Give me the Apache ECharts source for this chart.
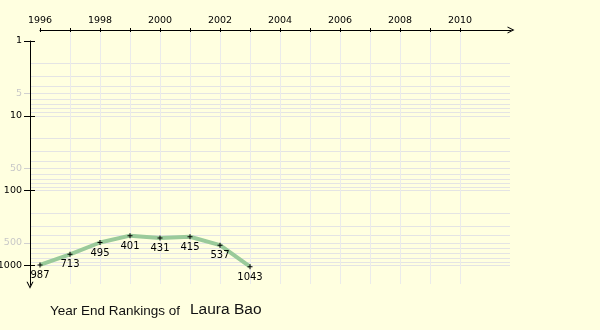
<!DOCTYPE html>
<html><head><meta charset="utf-8">
<script src="https://cdn.jsdelivr.net/npm/echarts@6/dist/echarts.min.js"></script>
<style>html,body{margin:0;padding:0;background:#ffffe0;}#c{width:600px;height:330px;}</style>
</head><body><div id="c"></div>
<script>
var years = [1996, 1997, 1998, 1999, 2000, 2001, 2002, 2003];
var ranks = [987, 713, 495, 401, 431, 415, 537, 1043];
var xTickYears = [1996,1997,1998,1999,2000,2001,2002,2003,2004,2005,2006,2007,2008,2009,2010];
var xLabelYears = [1996,1998,2000,2002,2004,2006,2008,2010];
var xGridYears = [1997,1998,1999,2000,2001,2002,2003,2004,2005,2006,2007,2008,2009,2010];
var yMajor = [1, 10, 100, 1000];
var yMinorLabels = [5, 50, 500];
var yGrid = [2,3,4,5,6,7,8,9,10,20,30,40,50,60,70,80,90,100,200,300,400,500,600,700,800,900,1000];
var titleText = 'Year End Rankings of';
var playerName = 'Laura Bao';

var FONT = 'DejaVu Sans';
var chev = 'path://M0,10 L5,0 L10,10 L8.4,10 L5,3.2 L1.6,10 Z';
var plus = 'path://M2,0H3V2H5V3H3V5H2V3H0V2H2Z';
var YMIN = 1, YMAX = 1850, XMIN = 1996, XMAX = 2011.7;
function fmt(v){ return String(Math.round(v)); }

function yAx(o){
  var base = {type:'log', logBase:10, min:YMIN, max:YMAX, inverse:true, position:'left', offset:10,
    axisLine:{show:false}, axisTick:{show:false}, axisLabel:{show:false}, splitLine:{show:false}, z:1};
  for (var k in o) base[k] = o[k];
  return base;
}
function xAx(o){
  var base = {type:'value', min:XMIN, max:XMAX, position:'top', offset:11,
    axisLine:{show:false}, axisTick:{show:false}, axisLabel:{show:false}, splitLine:{show:false}, z:1};
  for (var k in o) base[k] = o[k];
  return base;
}

var chart = echarts.init(document.getElementById('c'), null, {renderer:'canvas'});
chart.setOption({
  backgroundColor:'#ffffe0',
  animation:false,
  grid:{left:40, top:41, right:89, bottom:44.7, containLabel:false, outerBoundsMode:'none'},
  xAxis:[
    xAx({axisLine:{show:true, lineStyle:{color:'#000', width:1}, symbol:['none', chev], symbolSize:[7,8]},
         axisTick:{show:true, customValues:xTickYears, length:2, lineStyle:{color:'#000'}},
         axisLabel:{show:true, customValues:xLabelYears, formatter:fmt, margin:4, color:'#000', fontSize:9.5, fontFamily:FONT}, z:2}),
    xAx({axisTick:{show:true, inside:true, customValues:xTickYears, length:2, lineStyle:{color:'#000'}}, z:2}),
    xAx({axisTick:{show:true, inside:true, customValues:xGridYears, length:254, lineStyle:{color:'#ebebeb'}}, z:0})
  ],
  yAxis:[
    yAx({axisLine:{show:true, lineStyle:{color:'#000', width:1}, symbol:[chev, 'none'], symbolSize:[7,8]},
         axisTick:{show:true, customValues:yMajor, length:6, lineStyle:{color:'#000'}},
         axisLabel:{show:true, customValues:yMajor, formatter:fmt, margin:8, color:'#000', fontSize:9.5, fontFamily:FONT}, z:2}),
    yAx({axisTick:{show:true, inside:true, customValues:yMajor, length:5, lineStyle:{color:'#000'}}, z:2}),
    yAx({axisTick:{show:true, customValues:yMinorLabels, length:6, lineStyle:{color:'#d0d0d0'}},
         axisLabel:{show:true, customValues:yMinorLabels, formatter:fmt, margin:8, color:'#c8c8c8', fontSize:9.5, fontFamily:FONT}, z:1}),
    yAx({axisTick:{show:true, inside:true, customValues:yGrid, length:480, lineStyle:{color:'#e4e4e4'}}, z:0})
  ],
  series:[{
    type:'line', xAxisIndex:0, yAxisIndex:0, z:5,
    data: years.map(function(y,i){ return [y, ranks[i]]; }),
    lineStyle:{color:'#9aca9a', width:4},
    symbol:plus, symbolSize:5, itemStyle:{color:'#000'},
    label:{show:true, position:'bottom', distance:3, color:'#000', fontSize:10, fontFamily:FONT},
    emphasis:{disabled:true}
  }],
  graphic:[
    {type:'text', left:50, top:304, style:{text:titleText, fill:'#111', font:'13.5px "Liberation Sans", Arial, sans-serif'}},
    {type:'text', left:190, top:302, style:{text:playerName, fill:'#111', font:'15.5px "Liberation Sans", Arial, sans-serif'}}
  ]
});
</script></body></html>
